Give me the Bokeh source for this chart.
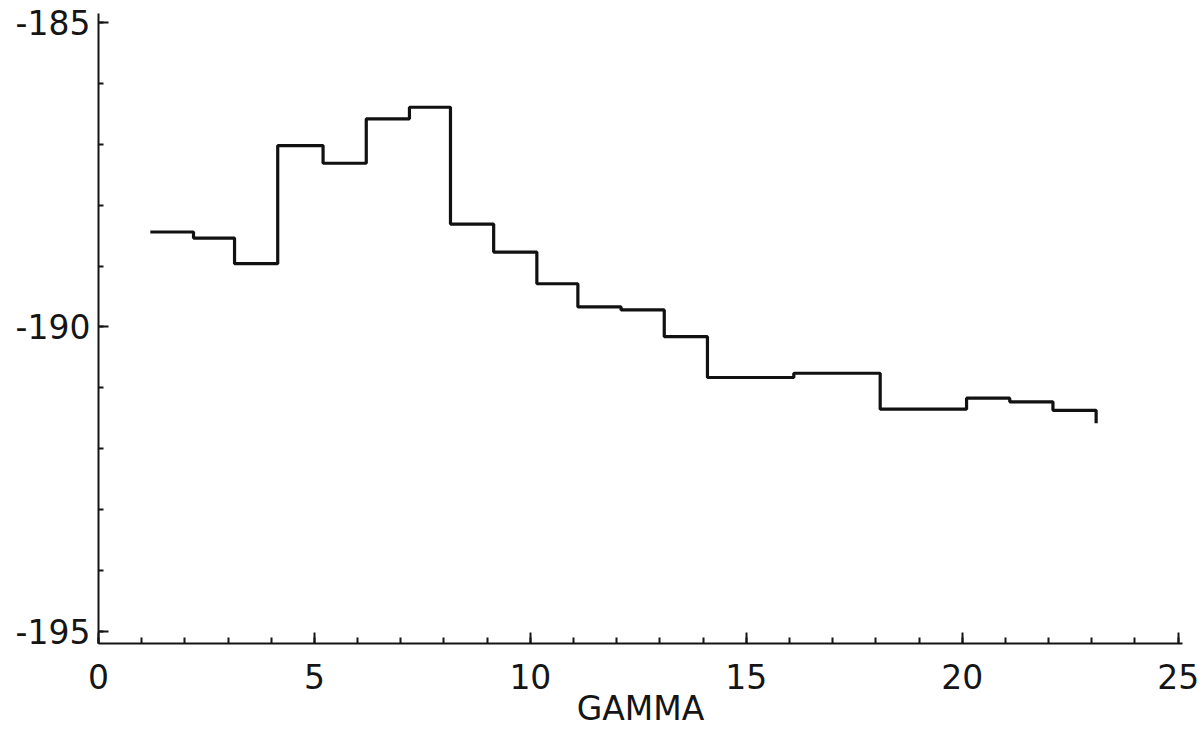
from bokeh.plotting import figure
from bokeh.models import Range1d, SingleIntervalTicker, NumeralTickFormatter
from bokeh.embed import file_html
from bokeh.resources import INLINE

# bin edges along GAMMA and the level of each bin
edges = [1.2, 2.2, 3.15, 4.15, 5.2, 6.2, 7.2, 8.15, 9.15, 10.15, 11.1, 12.1,
         13.1, 14.1, 16.1, 18.1, 20.1, 21.1, 22.1, 23.1]
levels = [-188.44, -188.54, -188.96, -187.02, -187.31, -186.58, -186.39,
          -188.31, -188.77, -189.29, -189.67, -189.72, -190.16, -190.83,
          -190.76, -191.35, -191.17, -191.23, -191.37]
end_level = -191.58

x_label = "GAMMA"

p = figure(width=1200, height=730, output_backend="svg", toolbar_location=None,
           x_range=Range1d(0, 25.1), y_range=Range1d(-195.2, -184.85),
           min_border_left=98, min_border_right=18, min_border_top=13,
           min_border_bottom=87)
p.outline_line_color = None
p.grid.visible = False
p.background_fill_color = "white"
p.border_fill_color = "white"

p.step(edges, levels + [end_level], mode="after", line_color="#111111",
       line_width=3.2)

for ax in (p.xaxis[0], p.yaxis[0]):
    ax.ticker = SingleIntervalTicker(interval=5, num_minor_ticks=5)
    ax.axis_line_width = 2
    ax.axis_line_color = "#151515"
    ax.major_tick_line_width = 2
    ax.minor_tick_line_width = 2
    ax.major_tick_line_color = "#151515"
    ax.minor_tick_line_color = "#151515"
    ax.major_tick_out = 0
    ax.minor_tick_out = 0
    ax.major_label_text_font = "DejaVu Sans"
    ax.major_label_text_font_size = "33px"
    ax.major_label_text_color = "#151515"

p.yaxis.formatter = NumeralTickFormatter(format="0")
p.xaxis.major_tick_in = 11
p.xaxis.minor_tick_in = 6
p.yaxis.major_tick_in = 10
p.yaxis.minor_tick_in = 5
p.xaxis.major_label_standoff = 20
p.yaxis.major_label_standoff = 8

p.xaxis.axis_label = x_label
p.xaxis.axis_label_text_font = "DejaVu Sans"
p.xaxis.axis_label_text_font_size = "33px"
p.xaxis.axis_label_text_font_style = "normal"
p.xaxis.axis_label_text_color = "#151515"
p.xaxis.axis_label_text_line_height = 0.8
p.xaxis.axis_label_standoff = -3

open("out.html", "w").write(file_html(p, INLINE))
